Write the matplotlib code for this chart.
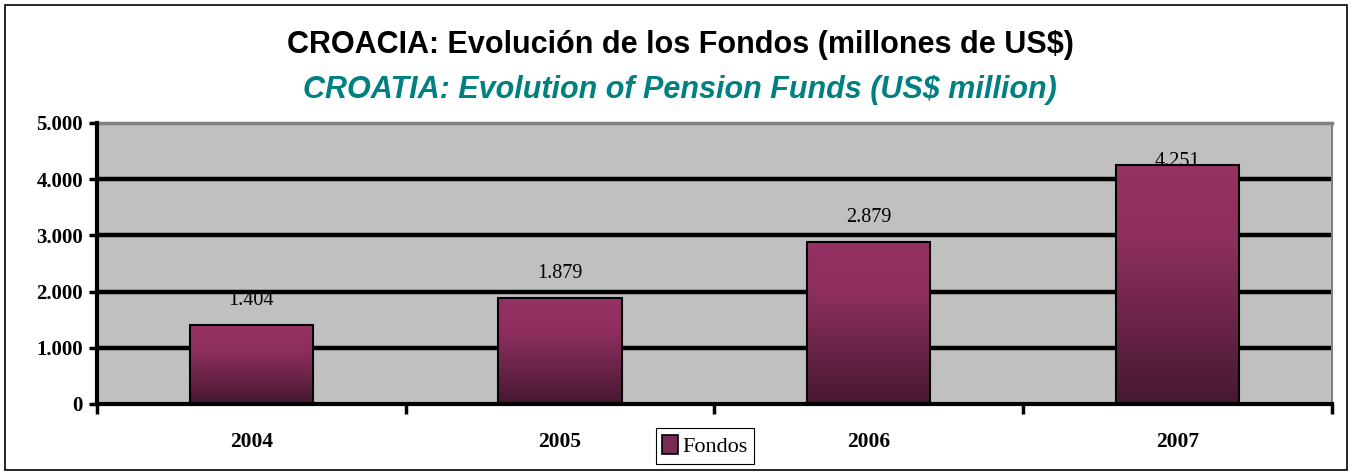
import numpy as np
import matplotlib.pyplot as plt
from matplotlib.colors import LinearSegmentedColormap
from matplotlib.patches import Rectangle

years = ['2004', '2005', '2006', '2007']
fondos = [1404, 1879, 2879, 4251]
labels = ['1.404', '1.879', '2.879', '4.251']
yticks = [0, 1000, 2000, 3000, 4000, 5000]
ytick_labels = ['0', '1.000', '2.000', '3.000', '4.000', '5.000']

serif = ['Liberation Serif', 'DejaVu Serif']
sans = ['Liberation Sans', 'DejaVu Sans']

fig = plt.figure(figsize=(13.52, 4.76), dpi=100)
ax = fig.add_axes([0.0717, 0.1513, 0.9133, 0.5903])
ax.set_facecolor('#c0c0c0')

# outer frame of the chart
fig.patches.append(Rectangle((5 / 1352, 6 / 476), 1342 / 1352, 465 / 476,
                             transform=fig.transFigure, fill=False,
                             edgecolor='black', linewidth=1.2))

x = np.arange(len(years))
bars = ax.bar(x, fondos, width=0.4, color='none', edgecolor='black',
              linewidth=1.5, zorder=4)

cmap = LinearSegmentedColormap.from_list('fondo', ['#461830', '#6a2448', '#8c2e5e', '#963264'])
grad = np.linspace(0, 1, 256).reshape(-1, 1)
for b in bars:
    x0, w, h = b.get_x(), b.get_width(), b.get_height()
    im = ax.imshow(grad, cmap=cmap, origin='lower', aspect='auto',
                   extent=[x0, x0 + w, 0, h], zorder=3)
    im.set_clip_path(b)

# value labels (the last one sits lower, clipped by the bar like the original)
offsets = [11, 11, 11, -4]
for xi, v, lab, off in zip(x, fondos, labels, offsets):
    ax.annotate(lab, (xi, v), xytext=(0, off), textcoords='offset points',
                ha='center', va='bottom', fontsize=14.5, family=serif, zorder=2)

ax.set_xlim(-0.5, 3.5)
ax.set_ylim(0, 5000)
ax.set_yticks(yticks)
ax.set_yticklabels(ytick_labels, family=serif, fontweight='bold', fontsize=15)
ax.set_xticks(x)
ax.set_xticklabels(years, family=serif, fontweight='bold', fontsize=15.5)
ax.tick_params(axis='x', length=0, pad=20)
ax.set_xticks([-0.5, 0.5, 1.5, 2.5, 3.5], minor=True)
ax.tick_params(axis='x', which='minor', length=7, width=2.5, direction='out')
ax.tick_params(axis='y', length=6, width=2.5, pad=4)

for yv in yticks[1:-1]:
    ax.axhline(yv, color='black', linewidth=3.2, zorder=1)

ax.spines['left'].set_linewidth(3)
ax.spines['bottom'].set_linewidth(3)
ax.spines['left'].set_zorder(5)
ax.spines['bottom'].set_zorder(5)
ax.spines['top'].set_color('#808080')
ax.spines['top'].set_linewidth(2.5)
ax.spines['right'].set_color('#808080')
ax.spines['right'].set_linewidth(1.5)

fig.text(0.503, 0.905, 'CROACIA: Evolución de los Fondos (millones de US$)',
         ha='center', va='center', fontsize=22, fontweight='bold', family=sans)
fig.text(0.503, 0.81, 'CROATIA: Evolution of Pension Funds (US$ million)',
         ha='center', va='center', fontsize=22, fontweight='bold',
         style='italic', color='#008080', family=sans)

handle = Rectangle((0, 0), 1, 1, facecolor='#7a2a55', edgecolor='black', linewidth=1.2)
leg = fig.legend([handle], ['Fondos'], loc='center', bbox_to_anchor=(0.5215, 0.063),
                 prop={'family': serif, 'size': 16}, fancybox=False,
                 edgecolor='black', framealpha=1, handlelength=0.7,
                 handleheight=0.9, handletextpad=0.2, borderpad=0.3,
                 borderaxespad=0)
leg.get_frame().set_linewidth(0.8)

fig.savefig('out.png', dpi=100)
